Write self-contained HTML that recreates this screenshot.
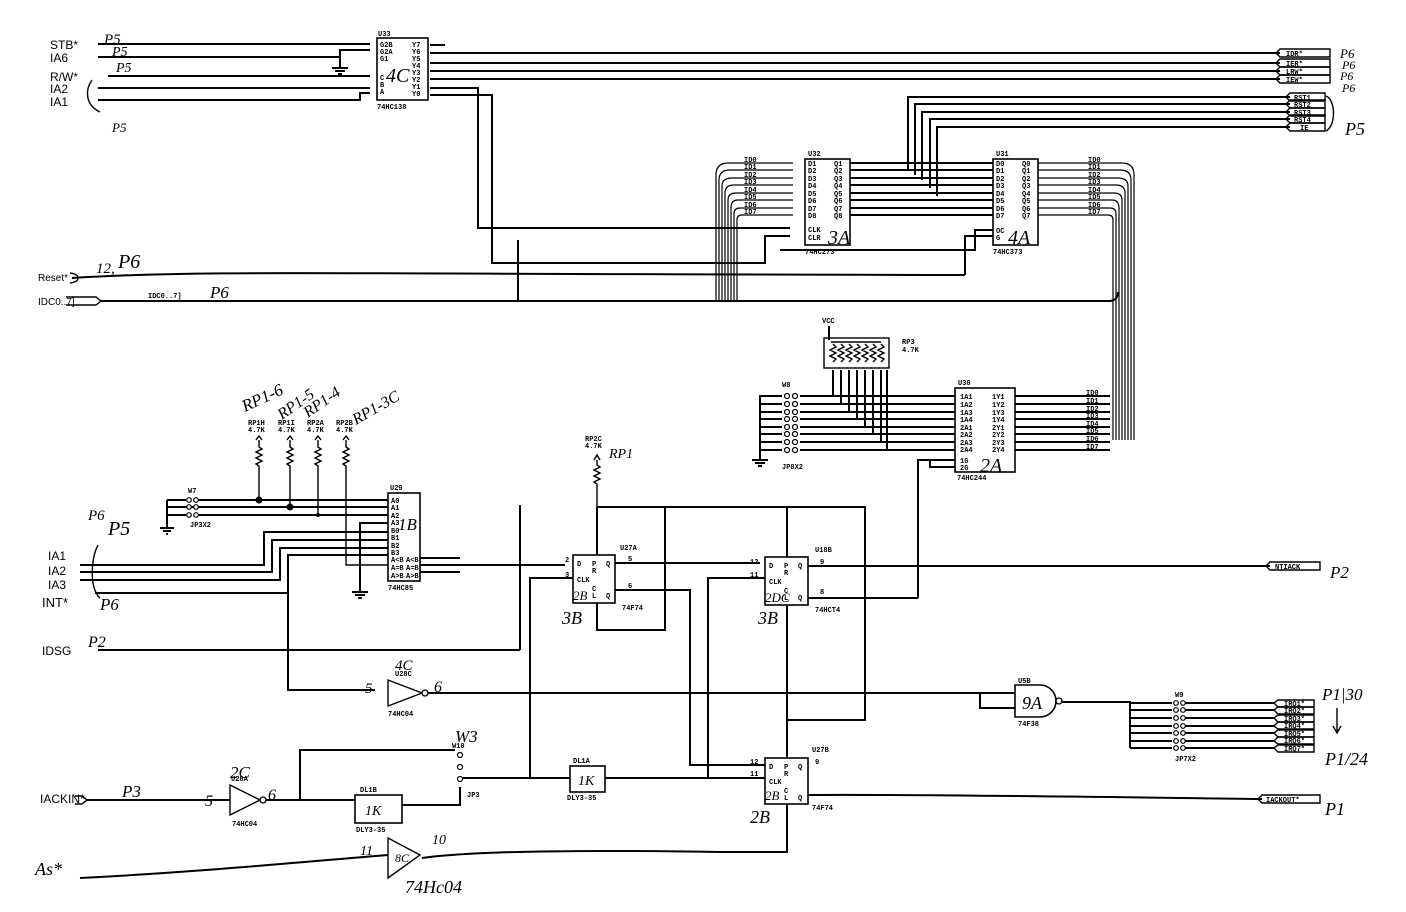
<!DOCTYPE html>
<html><head><meta charset="utf-8"><style>
html,body{margin:0;padding:0;background:#fff;}
svg{display:block}
.w{stroke:#000;stroke-width:2;fill:none}
.t{stroke:#000;stroke-width:1.4;fill:none}
.bu{stroke:#000;stroke-width:1.2;fill:none}
.b{stroke:#000;stroke-width:1.6;fill:#fff}
.s{font-family:"Liberation Mono",monospace;font-size:7px;font-weight:bold;fill:#000}
.h{font-family:"Liberation Serif",serif;font-style:italic;fill:#000}
.hs{font-family:"Liberation Sans",sans-serif;fill:#000}
</style></head><body>
<svg width="1406" height="912" viewBox="0 0 1406 912" xmlns="http://www.w3.org/2000/svg">
<rect width="1406" height="912" fill="#fff"/>

<!-- ===== Top left inputs to U33 ===== -->
<g class="w">
<path d="M98 44 H370"/><path d="M98 57 H340 V50 H370"/><path d="M108 76 H370"/>
<path d="M98 88 H370"/><path d="M98 100 H360 V93 H370"/>
<path d="M340 57 V68 M332 68 H348 M335 71 H345 M338 74 H342"/>
</g>
<path class="t" d="M92 80 C85 90 85 105 100 112"/>
<text class="hs" x="50" y="49" font-size="12">STB*</text>
<text class="hs" x="50" y="62" font-size="12">IA6</text>
<text class="hs" x="50" y="81" font-size="12">R/W*</text>
<text class="hs" x="50" y="93" font-size="12">IA2</text>
<text class="hs" x="50" y="106" font-size="12">IA1</text>
<text class="h" x="104" y="44" font-size="15">P5</text>
<text class="h" x="112" y="56" font-size="14">P5</text>
<text class="h" x="116" y="72" font-size="14">P5</text>
<text class="h" x="112" y="132" font-size="13">P5</text>
<!-- U33 -->
<rect class="b" x="377" y="38" width="51" height="62"/>
<text class="s" x="378" y="36">U33</text>
<text class="s" x="380" y="47">G2B</text><text class="s" x="380" y="54">G2A</text><text class="s" x="380" y="61">G1</text>
<text class="s" x="380" y="80">C</text><text class="s" x="380" y="87">B</text><text class="s" x="380" y="94">A</text>
<text class="s" x="412" y="47">Y7</text><text class="s" x="412" y="54">Y6</text><text class="s" x="412" y="61">Y5</text><text class="s" x="412" y="68">Y4</text><text class="s" x="412" y="75">Y3</text><text class="s" x="412" y="82">Y2</text><text class="s" x="412" y="89">Y1</text><text class="s" x="412" y="96">Y0</text>
<text class="h" x="386" y="82" font-size="20">4C</text>
<text class="s" x="377" y="109">74HC138</text>
<!-- U33 outputs -->
<g class="w">
<path d="M430 53 H1280"/><path d="M430 63 H1280"/><path d="M430 71 H1280"/><path d="M430 79 H1280"/>
<path d="M430 88 H478 V228 H790"/>
<path d="M430 95 H492 V263 H765 V236 H790"/>
<path d="M430 45 H445"/>
</g>
<g class="t">
<path d="M1280 49 H1330 V57 H1280 L1276 53 Z"/><path d="M1280 59 H1330 V67 H1280 L1276 63 Z"/>
<path d="M1280 67 H1330 V75 H1280 L1276 71 Z"/><path d="M1280 75 H1330 V83 H1280 L1276 79 Z"/>
</g>
<text class="s" x="1286" y="56">IDR*</text><text class="s" x="1286" y="66">IER*</text><text class="s" x="1286" y="74">LRW*</text><text class="s" x="1286" y="82">IEW*</text>
<text class="h" x="1340" y="58" font-size="13">P6</text><text class="h" x="1342" y="69" font-size="12">P6</text>
<text class="h" x="1340" y="80" font-size="12">P6</text><text class="h" x="1342" y="92" font-size="12">P6</text>

<!-- RST lines -->
<g class="w">
<path d="M908 170 V97 H1290"/><path d="M915 175 V104 H1290"/><path d="M922 180 V112 H1290"/>
<path d="M930 188 V119 H1290"/><path d="M937 196 V127 H1290"/>
</g>
<g class="t">
<path d="M1290 93 H1325 V101 H1290 L1286 97 Z"/><path d="M1290 100 H1325 V108 H1290 L1286 104 Z"/>
<path d="M1290 108 H1325 V116 H1290 L1286 112 Z"/><path d="M1290 115 H1325 V123 H1290 L1286 119 Z"/>
<path d="M1290 123 H1325 V131 H1290 L1286 127 Z"/>
<path d="M1326 96 C1336 100 1336 126 1326 131"/>
</g>
<text class="s" x="1294" y="100">RST1</text><text class="s" x="1294" y="107">RST2</text><text class="s" x="1294" y="115">RST3</text><text class="s" x="1294" y="122">RST4</text><text class="s" x="1300" y="130">IE</text>
<text class="h" x="1345" y="135" font-size="18">P5</text>

<!-- U32 / U31 bus -->
<g class="w">
<path d="M850 163 H993"/><path d="M850 170 H993"/><path d="M850 178 H993"/><path d="M850 185 H993"/>
<path d="M850 193 H993"/><path d="M850 200 H993"/><path d="M850 208 H993"/><path d="M850 215 H993"/>
</g>
<g class="bu">
<path d="M793 163 H728 Q716 163 716 175 V300"/><path d="M793 170 H730 Q719 170 719 180 V300"/>
<path d="M793 178 H732 Q722 178 722 186 V300"/><path d="M793 185 H734 Q725 185 725 193 V300"/>
<path d="M793 193 H736 Q728 193 728 200 V300"/><path d="M793 200 H738 Q731 200 731 208 V300"/>
<path d="M793 208 H740 Q734 208 734 214 V300"/><path d="M793 215 H742 Q737 215 737 220 V300"/>
<path d="M1038 163 H1122 Q1134 163 1134 175 V440"/><path d="M1038 170 H1120 Q1131 170 1131 180 V440"/>
<path d="M1038 178 H1118 Q1128 178 1128 186 V440"/><path d="M1038 185 H1116 Q1125 185 1125 193 V440"/>
<path d="M1038 193 H1114 Q1122 193 1122 200 V440"/><path d="M1038 200 H1112 Q1119 200 1119 208 V440"/>
<path d="M1038 208 H1110 Q1116 208 1116 214 V440"/><path d="M1038 215 H1108 Q1113 215 1113 220 V440"/>
</g>
<g class="w">
<path d="M993 230 H975 V250 H780"/>
<path d="M993 236 H965 V275"/>
</g>
<g class="s">
<text x="744" y="162">ID0</text><text x="744" y="169">ID1</text><text x="744" y="177">ID2</text><text x="744" y="184">ID3</text>
<text x="744" y="192">ID4</text><text x="744" y="199">ID5</text><text x="744" y="207">ID6</text><text x="744" y="214">ID7</text>
<text x="1088" y="162">ID0</text><text x="1088" y="169">ID1</text><text x="1088" y="177">ID2</text><text x="1088" y="184">ID3</text>
<text x="1088" y="192">ID4</text><text x="1088" y="199">ID5</text><text x="1088" y="207">ID6</text><text x="1088" y="214">ID7</text>
</g>
<rect class="b" x="805" y="159" width="45" height="86"/>
<text class="s" x="808" y="156">U32</text>
<g class="s"><text x="808" y="166">D1</text><text x="808" y="173">D2</text><text x="808" y="181">D3</text><text x="808" y="188">D4</text><text x="808" y="196">D5</text><text x="808" y="203">D6</text><text x="808" y="211">D7</text><text x="808" y="218">D8</text>
<text x="834" y="166">Q1</text><text x="834" y="173">Q2</text><text x="834" y="181">Q3</text><text x="834" y="188">Q4</text><text x="834" y="196">Q5</text><text x="834" y="203">Q6</text><text x="834" y="211">Q7</text><text x="834" y="218">Q8</text>
<text x="808" y="232">CLK</text><text x="808" y="240">CLR</text><text x="805" y="254">74HC273</text></g>
<text class="h" x="828" y="244" font-size="20">3A</text>
<rect class="b" x="993" y="159" width="45" height="86"/>
<text class="s" x="996" y="156">U31</text>
<g class="s"><text x="996" y="166">D0</text><text x="996" y="173">D1</text><text x="996" y="181">D2</text><text x="996" y="188">D3</text><text x="996" y="196">D4</text><text x="996" y="203">D5</text><text x="996" y="211">D6</text><text x="996" y="218">D7</text>
<text x="1022" y="166">Q0</text><text x="1022" y="173">Q1</text><text x="1022" y="181">Q2</text><text x="1022" y="188">Q3</text><text x="1022" y="196">Q4</text><text x="1022" y="203">Q5</text><text x="1022" y="211">Q6</text><text x="1022" y="218">Q7</text>
<text x="996" y="233">OC</text><text x="996" y="240">G</text><text x="993" y="254">74HC373</text></g>
<text class="h" x="1008" y="244" font-size="20">4A</text>

<!-- Reset / IDC -->
<g class="w">
<path d="M72 278 C200 270 300 274 965 275"/>
<path d="M100 301 H1110 Q1118 300 1118 292"/>
<path d="M518 300 V240"/>
</g>
<path class="t" d="M70 273 Q78 274 78 278 Q78 282 70 283"/>
<path class="t" d="M66 297 H96 L101 301 L96 305 H66"/>
<text class="hs" x="38" y="281" font-size="10">Reset*</text>
<text class="hs" x="38" y="305" font-size="10">IDC0..7]</text>
<text class="s" x="148" y="298">IDC0..7]</text>
<text class="h" x="96" y="273" font-size="15">12,</text><text class="h" x="118" y="268" font-size="20">P6</text>
<text class="h" x="210" y="298" font-size="17">P6</text>

<!-- RP3 + U30 -->
<text class="s" x="822" y="323">VCC</text>
<path class="w" d="M829 326 V340"/>
<rect class="t" x="824" y="338" width="65" height="30"/>
<path class="t" d="M831 342 h50"/>
<g class="t">
<path d="M833 344 l3 3 -6 3 6 3 -6 3 6 3 -3 3 M841 344 l3 3 -6 3 6 3 -6 3 6 3 -3 3 M849 344 l3 3 -6 3 6 3 -6 3 6 3 -3 3 M857 344 l3 3 -6 3 6 3 -6 3 6 3 -3 3 M865 344 l3 3 -6 3 6 3 -6 3 6 3 -3 3 M873 344 l3 3 -6 3 6 3 -6 3 6 3 -3 3 M881 344 l3 3 -6 3 6 3 -6 3 6 3 -3 3"/>
</g>
<text class="s" x="902" y="344">RP3</text><text class="s" x="902" y="352">4.7K</text>
<g class="w">
<path d="M833 370 V396 M841 370 V404 M849 370 V412 M857 370 V419 M865 370 V427 M873 370 V434 M881 370 V442 M887 370 V450"/>
<path d="M800 396 H955 M800 404 H955 M800 412 H955 M800 419 H955 M800 427 H955 M800 434 H955 M800 442 H955 M800 450 H955"/>
<path d="M782 396 H760 V460 M782 404 H760 M782 412 H760 M782 419 H760 M782 427 H760 M782 434 H760 M782 442 H760 M782 450 H760"/>
<path d="M752 460 H768 M755 463 H765 M758 466 H762"/>
<path d="M1015 396 H1110 M1015 404 H1110 M1015 412 H1110 M1015 419 H1110 M1015 427 H1110 M1015 434 H1110 M1015 442 H1110 M1015 450 H1110"/>
<path d="M955 460 H918 V598 M955 467 H930 V460"/>
</g>
<g fill="#fff" stroke="#000" stroke-width="1.2">
<circle cx="787" cy="396" r="2.5"/><circle cx="795" cy="396" r="2.5"/><circle cx="787" cy="404" r="2.5"/><circle cx="795" cy="404" r="2.5"/>
<circle cx="787" cy="412" r="2.5"/><circle cx="795" cy="412" r="2.5"/><circle cx="787" cy="419" r="2.5"/><circle cx="795" cy="419" r="2.5"/>
<circle cx="787" cy="427" r="2.5"/><circle cx="795" cy="427" r="2.5"/><circle cx="787" cy="434" r="2.5"/><circle cx="795" cy="434" r="2.5"/>
<circle cx="787" cy="442" r="2.5"/><circle cx="795" cy="442" r="2.5"/><circle cx="787" cy="450" r="2.5"/><circle cx="795" cy="450" r="2.5"/>
</g>
<text class="s" x="782" y="387">W8</text><text class="s" x="782" y="469">JP8X2</text>
<rect class="b" x="955" y="388" width="60" height="84"/>
<text class="s" x="958" y="385">U30</text>
<g class="s"><text x="960" y="399">1A1</text><text x="960" y="407">1A2</text><text x="960" y="415">1A3</text><text x="960" y="422">1A4</text><text x="960" y="430">2A1</text><text x="960" y="437">2A2</text><text x="960" y="445">2A3</text><text x="960" y="452">2A4</text>
<text x="992" y="399">1Y1</text><text x="992" y="407">1Y2</text><text x="992" y="415">1Y3</text><text x="992" y="422">1Y4</text><text x="992" y="430">2Y1</text><text x="992" y="437">2Y2</text><text x="992" y="445">2Y3</text><text x="992" y="452">2Y4</text>
<text x="960" y="463">1G</text><text x="960" y="470">2G</text><text x="957" y="480">74HC244</text>
<text x="1086" y="395">ID0</text><text x="1086" y="403">ID1</text><text x="1086" y="411">ID2</text><text x="1086" y="418">ID3</text><text x="1086" y="426">ID4</text><text x="1086" y="433">ID5</text><text x="1086" y="441">ID6</text><text x="1086" y="449">ID7</text></g>
<text class="h" x="980" y="472" font-size="20">2A</text>

<!-- RP1 resistors -->
<text class="h" transform="translate(245,412) rotate(-25)" font-size="17">RP1-6</text>
<text class="h" transform="translate(282,420) rotate(-35)" font-size="16">RP1-5</text>
<text class="h" transform="translate(308,418) rotate(-35)" font-size="16">RP1-4</text>
<text class="h" transform="translate(356,425) rotate(-30)" font-size="16">RP1-3C</text>
<g class="s"><text x="248" y="425">RP1H</text><text x="248" y="432">4.7K</text><text x="278" y="425">RP1I</text><text x="278" y="432">4.7K</text>
<text x="307" y="425">RP2A</text><text x="307" y="432">4.7K</text><text x="336" y="425">RP2B</text><text x="336" y="432">4.7K</text></g>
<g class="t">
<path d="M259 440 V447 l3 2 -6 3 6 3 -6 3 6 3 -6 3 3 2 V500"/>
<path d="M290 440 V447 l3 2 -6 3 6 3 -6 3 6 3 -6 3 3 2 V507"/>
<path d="M318 440 V447 l3 2 -6 3 6 3 -6 3 6 3 -6 3 3 2 V515"/>
<path d="M346 440 V447 l3 2 -6 3 6 3 -6 3 6 3 -6 3 3 2 V565 H388"/>
<path d="M256 440 L259 436 L262 440 M287 440 L290 436 L293 440 M315 440 L318 436 L321 440 M343 440 L346 436 L349 440"/>
</g>
<g class="w">
<path d="M167 500 H186 M198 500 H388 M167 507 H388 M167 515 H186 M198 515 H388 M167 500 V528"/>
<path d="M160 528 H174 M163 531 H171 M166 534 H168"/>
<path d="M388 523 H360 V592 M352 592 H368 M355 595 H365 M358 598 H362"/>
<path d="M80 565 H264 V532 H388"/><path d="M80 572 H272 V540 H388"/><path d="M80 580 H280 V548 H388"/>
<path d="M95 593 H288 V555 H388"/><path d="M288 593 V690 H375"/>
<path d="M420 565 H565"/><path d="M420 558 H460 M420 572 H460"/>
</g>
<circle cx="259" cy="500" r="3.5"/><circle cx="290" cy="507" r="3.5"/><circle cx="318" cy="515" r="2"/>
<g fill="#fff" stroke="#000" stroke-width="1.2"><circle cx="189" cy="500" r="2.3"/><circle cx="196" cy="500" r="2.3"/><circle cx="189" cy="507" r="2.3"/><circle cx="196" cy="507" r="2.3"/><circle cx="189" cy="515" r="2.3"/><circle cx="196" cy="515" r="2.3"/></g>
<text class="s" x="188" y="493">W7</text><text class="s" x="190" y="527">JP3X2</text>
<rect class="b" x="388" y="493" width="32" height="88"/>
<text class="s" x="390" y="490">U29</text>
<g class="s"><text x="391" y="503">A0</text><text x="391" y="510">A1</text><text x="391" y="518">A2</text><text x="391" y="525">A3</text><text x="391" y="533">B0</text><text x="391" y="540">B1</text><text x="391" y="548">B2</text><text x="391" y="555">B3</text>
<text x="391" y="562">A&lt;B</text><text x="391" y="570">A=B</text><text x="391" y="578">A&gt;B</text><text x="406" y="562">A&lt;B</text><text x="406" y="570">A=B</text><text x="406" y="578">A&gt;B</text><text x="388" y="590">74HC85</text></g>
<text class="h" x="398" y="530" font-size="17">1B</text>
<path class="t" d="M98 545 C90 560 90 590 100 598"/>
<text class="hs" x="48" y="560" font-size="12">IA1</text><text class="hs" x="48" y="575" font-size="12">IA2</text><text class="hs" x="48" y="589" font-size="12">IA3</text>
<text class="hs" x="42" y="607" font-size="13">INT*</text>
<text class="h" x="88" y="520" font-size="15">P6</text><text class="h" x="108" y="535" font-size="20">P5</text><text class="h" x="100" y="610" font-size="17">P6</text>

<!-- RP2C -->
<text class="s" x="585" y="441">RP2C</text><text class="s" x="585" y="448">4.7K</text>
<path class="t" d="M594 460 L597 455 L600 460 M597 460 V465 l3 2 -6 3 6 3 -6 3 6 3 -6 3 3 2 V507"/>
<text class="h" x="609" y="458" font-size="14">RP1</text>

<!-- Flip flops -->
<g class="w">
<path d="M597 507 H865 V720 H787 V757"/><path d="M597 507 V555"/><path d="M597 603 V630 H665 V507"/>
<path d="M615 563 H760"/><path d="M615 590 H690 V765 H765"/>
<path d="M573 578 H530 V778"/><path d="M787 507 V557"/>
<path d="M765 578 H708 V778"/>
<path d="M808 566 H1270"/><path d="M808 598 H918"/>
<path d="M787 605 V720"/>
<path d="M98 650 H520"/><path d="M520 505 V650"/>
</g>
<rect class="b" x="573" y="555" width="42" height="48"/>
<g class="s"><text x="577" y="566">D</text><text x="592" y="566">P</text><text x="592" y="573">R</text><text x="606" y="566">Q</text><text x="577" y="582">CLK</text><text x="592" y="591">C</text><text x="592" y="598">L</text><text x="606" y="598">Q</text>
<text x="620" y="550">U27A</text><text x="622" y="610">74F74</text><text x="565" y="562">2</text><text x="565" y="577">3</text><text x="628" y="561">5</text><text x="628" y="588">6</text></g>
<text class="h" x="573" y="600" font-size="13">2B</text>
<text class="h" x="562" y="624" font-size="18">3B</text>
<rect class="b" x="765" y="557" width="43" height="48"/>
<g class="s"><text x="769" y="568">D</text><text x="784" y="568">P</text><text x="784" y="575">R</text><text x="798" y="568">Q</text><text x="769" y="584">CLK</text><text x="784" y="593">C</text><text x="784" y="600">L</text><text x="798" y="600">Q</text>
<text x="815" y="552">U18B</text><text x="815" y="612">74HCT4</text><text x="750" y="564">12</text><text x="750" y="577">11</text><text x="820" y="564">9</text><text x="820" y="594">8</text></g>
<text class="h" x="765" y="602" font-size="13">2DC</text>
<text class="h" x="758" y="624" font-size="18">3B</text>
<path class="t" d="M1270 562 H1320 V570 H1270 L1266 566 Z"/>
<text class="s" x="1275" y="569">NTIACK</text>
<text class="h" x="1330" y="578" font-size="17">P2</text>
<text class="hs" x="42" y="655" font-size="12">IDSG</text><text class="h" x="88" y="647" font-size="16">P2</text>

<!-- Inverter U28C -->
<path class="t" d="M388 680 L422 693 L388 706 Z"/><circle cx="425" cy="693" r="3" fill="#fff" stroke="#000" stroke-width="1.3"/>
<path class="w" d="M428 693 H1015 M980 693 V708 H1015"/>
<text class="s" x="395" y="676">U28C</text><text class="s" x="388" y="716">74HC04</text>
<text class="h" x="395" y="670" font-size="15">4C</text><text class="h" x="365" y="693" font-size="15">5</text><text class="h" x="434" y="692" font-size="16">6</text>
<!-- U5B nand -->
<path class="b" d="M1015 685 H1040 A16 16 0 0 1 1040 717 H1015 Z"/><circle cx="1059" cy="701" r="3" fill="#fff" stroke="#000" stroke-width="1.3"/>
<text class="h" x="1022" y="709" font-size="18">9A</text>
<text class="s" x="1018" y="683">U5B</text><text class="s" x="1018" y="726">74F38</text>
<g class="w">
<path d="M1062 702 H1130 V748"/>
<path d="M1130 703 H1172 M1130 710 H1172 M1130 718 H1172 M1130 726 H1172 M1130 733 H1172 M1130 741 H1172 M1130 748 H1172"/>
<path d="M1185 703 H1275 M1185 710 H1275 M1185 718 H1275 M1185 726 H1275 M1185 733 H1275 M1185 741 H1275 M1185 748 H1275"/>
</g>
<g fill="#fff" stroke="#000" stroke-width="1.2">
<circle cx="1176" cy="703" r="2.3"/><circle cx="1183" cy="703" r="2.3"/><circle cx="1176" cy="710" r="2.3"/><circle cx="1183" cy="710" r="2.3"/>
<circle cx="1176" cy="718" r="2.3"/><circle cx="1183" cy="718" r="2.3"/><circle cx="1176" cy="726" r="2.3"/><circle cx="1183" cy="726" r="2.3"/>
<circle cx="1176" cy="733" r="2.3"/><circle cx="1183" cy="733" r="2.3"/><circle cx="1176" cy="741" r="2.3"/><circle cx="1183" cy="741" r="2.3"/>
<circle cx="1176" cy="748" r="2.3"/><circle cx="1183" cy="748" r="2.3"/>
</g>
<text class="s" x="1175" y="697">W9</text><text class="s" x="1175" y="761">JP7X2</text>
<g class="t">
<path d="M1278 700 H1314 V707 H1278 L1274 703 Z"/><path d="M1278 707 H1314 V714 H1278 L1274 710 Z"/>
<path d="M1278 715 H1314 V722 H1278 L1274 718 Z"/><path d="M1278 722 H1314 V729 H1278 L1274 726 Z"/>
<path d="M1278 730 H1314 V737 H1278 L1274 733 Z"/><path d="M1278 737 H1314 V744 H1278 L1274 741 Z"/>
<path d="M1278 745 H1314 V752 H1278 L1274 748 Z"/>
</g>
<g class="s"><text x="1284" y="706">IRQ1*</text><text x="1284" y="713">IRQ2*</text><text x="1284" y="721">IRQ3*</text><text x="1284" y="728">IRQ4*</text><text x="1284" y="736">IRQ5*</text><text x="1284" y="743">IRQ6*</text><text x="1284" y="751">IRQ7*</text></g>
<text class="h" x="1322" y="700" font-size="17">P1|30</text>
<path class="t" d="M1337 708 V732 M1333 726 L1337 733 L1341 726"/>
<text class="h" x="1325" y="765" font-size="18">P1/24</text>

<!-- U27B -->
<rect class="b" x="765" y="758" width="43" height="46"/>
<g class="s"><text x="769" y="769">D</text><text x="784" y="769">P</text><text x="784" y="776">R</text><text x="798" y="769">Q</text><text x="769" y="784">CLK</text><text x="784" y="793">C</text><text x="784" y="800">L</text><text x="798" y="800">Q</text>
<text x="812" y="752">U27B</text><text x="812" y="810">74F74</text><text x="750" y="764">12</text><text x="750" y="776">11</text><text x="815" y="764">9</text></g>
<text class="h" x="765" y="800" font-size="13">2B</text>
<text class="h" x="750" y="823" font-size="18">2B</text>
<g class="w">
<path d="M808 795 C900 794 1100 797 1262 799"/>
<path d="M787 804 V852 H720 C600 850 480 850 422 858"/>
<path d="M80 878 C200 872 300 862 388 855"/>
</g>
<path class="t" d="M1262 795 H1320 V803 H1262 L1258 799 Z"/>
<text class="s" x="1266" y="802">IACKOUT*</text>
<text class="h" x="1325" y="815" font-size="18">P1</text>
<!-- AS buffer -->
<path class="t" d="M388 838 L420 855 L388 878 Z"/><text class="h" x="395" y="862" font-size="12">8C</text>
<text class="h" x="360" y="855" font-size="14">11</text><text class="h" x="432" y="844" font-size="14">10</text>
<text class="h" x="405" y="893" font-size="18">74Hc04</text>
<text class="h" x="35" y="875" font-size="18">As*</text>

<!-- IACKIN chain -->
<path class="t" d="M75 796 H82 L87 800 L82 804 H75"/>
<text class="hs" x="40" y="803" font-size="12">IACKIN*</text><text class="h" x="122" y="797" font-size="17">P3</text>
<g class="w">
<path d="M87 800 H230"/><path d="M266 800 H355"/><path d="M300 800 V750 H455"/>
<path d="M402 805 H460 V787"/><path d="M463 778 H570"/><path d="M605 778 H765"/>
</g>
<path class="t" d="M230 785 L260 800 L230 815 Z"/><circle cx="263" cy="800" r="3" fill="#fff" stroke="#000" stroke-width="1.3"/>
<text class="s" x="231" y="781">U28A</text><text class="s" x="232" y="826">74HC04</text>
<text class="h" x="230" y="778" font-size="17">2C</text><text class="h" x="205" y="806" font-size="16">5</text><text class="h" x="268" y="800" font-size="16">6</text>
<rect class="b" x="355" y="795" width="47" height="28"/>
<text class="h" x="365" y="815" font-size="14">1K</text><text class="s" x="360" y="792">DL1B</text><text class="s" x="356" y="832">DLY3-35</text>
<g fill="#fff" stroke="#000" stroke-width="1.2"><circle cx="460" cy="755" r="2.5"/><circle cx="460" cy="767" r="2.5"/><circle cx="460" cy="779" r="2.5"/></g>
<text class="s" x="452" y="748">W10</text><text class="s" x="467" y="797">JP3</text>
<text class="h" x="455" y="742" font-size="17">W3</text>
<rect class="b" x="570" y="766" width="35" height="26"/>
<text class="h" x="578" y="785" font-size="14">1K</text><text class="s" x="573" y="763">DL1A</text><text class="s" x="567" y="800">DLY3-35</text>
</svg>
</body></html>
